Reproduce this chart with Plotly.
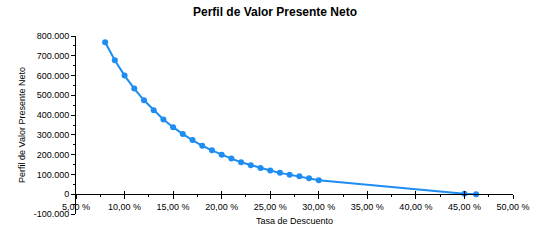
import plotly.graph_objects as go

# Data (discount rate in %, NPV)
rates = [8, 9, 10, 11, 12, 13, 14, 15, 16, 17, 18, 19, 20, 21, 22, 23, 24, 25,
         26, 27, 28, 29, 30, 45, 46.2]
npv = [768000, 677000, 600000, 534000, 475000, 425000, 378000, 339000, 304000,
       274000, 245000, 222000, 200000, 180000, 162000, 147000, 133000, 120000,
       108000, 98000, 91000, 81000, 71000, 2000, 0]

x_tickvals = [5, 10, 15, 20, 25, 30, 35, 40, 45, 50]
x_ticktext = ["5,00 %", "10,00 %", "15,00 %", "20,00 %", "25,00 %", "30,00 %",
              "35,00 %", "40,00 %", "45,00 %", "50,00 %"]
y_tickvals = [-100000, 0, 100000, 200000, 300000, 400000, 500000, 600000, 700000, 800000]
y_ticktext = ["-100.000", "0", "100.000", "200.000", "300.000", "400.000",
              "500.000", "600.000", "700.000", "800.000"]

BLUE = "#1e8cf0"
FONT = "Liberation Sans, Arial, sans-serif"

fig = go.Figure()
fig.add_trace(go.Scatter(
    x=rates, y=npv, mode="lines+markers",
    line=dict(color=BLUE, width=2),
    marker=dict(color=BLUE, size=6),
    showlegend=False, hoverinfo="skip",
))
# invisible trace to keep the overlay axis (tick marks crossing the x-axis line)
fig.add_trace(go.Scatter(x=[rates[0]], y=[npv[0]], xaxis="x2", mode="markers",
                         marker=dict(opacity=0), showlegend=False, hoverinfo="skip"))

y0 = -100000
y1 = 800000
xpos = (0 - y0) / (y1 - y0)

fig.update_layout(
    width=550, height=241,
    margin=dict(l=76, r=37, t=36, b=27),
    paper_bgcolor="white", plot_bgcolor="white",
    separators=",.",
    font=dict(family=FONT, size=9, color="black"),
    title=dict(text="<b>Perfil de Valor Presente Neto</b>", x=0.5, xanchor="center",
               y=0.952, yanchor="middle", yref="container",
               font=dict(family=FONT, size=12, color="black")),
    xaxis=dict(
        range=[5, 50], tickvals=x_tickvals, ticktext=x_ticktext,
        showgrid=False, zeroline=False, showline=True, linecolor="black", linewidth=1,
        ticks="outside", ticklen=4, tickcolor="black",
        minor=dict(dtick=2.5, tick0=5, ticks="outside", ticklen=2, tickcolor="black"),
        anchor="free", position=xpos,
        tickfont=dict(size=9),
        title=dict(text="Tasa de Descuento", font=dict(size=9), standoff=6),
    ),
    xaxis2=dict(
        range=[5, 50], overlaying="x", matches="x", tickvals=x_tickvals,
        showticklabels=False, showgrid=False, zeroline=False, showline=False,
        ticks="inside", ticklen=3, tickcolor="black",
        anchor="free", position=xpos,
    ),
    yaxis=dict(
        range=[y0, y1], tickvals=y_tickvals, ticktext=y_ticktext,
        showgrid=False, zeroline=False, showline=True, linecolor="black", linewidth=1,
        ticks="outside", ticklen=4, tickcolor="black",
        minor=dict(dtick=50000, tick0=0, ticks="outside", ticklen=2, tickcolor="black"),
        tickfont=dict(size=9),
        title=dict(text="Perfil de Valor Presente Neto", font=dict(size=9), standoff=6),
    ),
)

fig.write_html("out.html")
